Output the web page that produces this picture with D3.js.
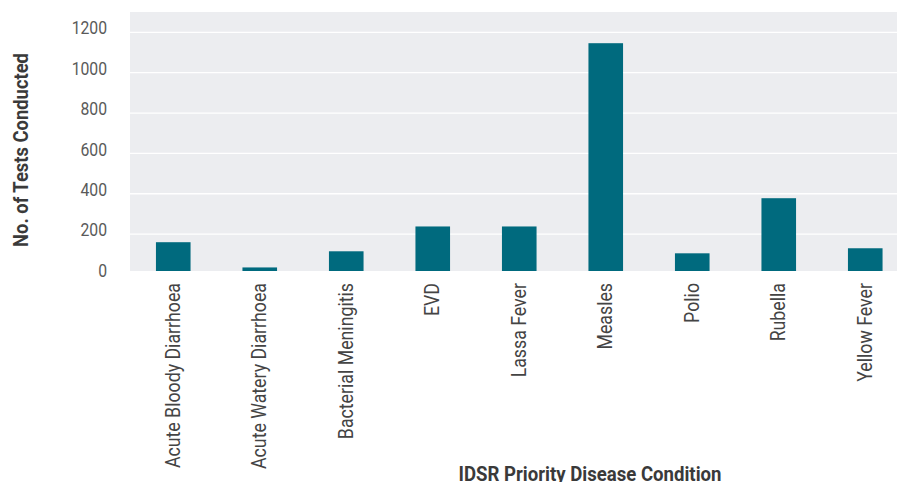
<!DOCTYPE html>
<html><head><meta charset="utf-8">
<script src="https://cdn.jsdelivr.net/npm/d3@7"></script>
<style>body{margin:0;background:#fff;} svg{display:block;} text{font-family:Roboto,"Noto Sans",sans-serif;}</style>
</head><body>
<svg id="chart" width="897" height="482"></svg>
<script>
const categories = ["Acute Bloody Diarrhoea","Acute Watery Diarrhoea","Bacterial Meningitis","EVD","Lassa Fever","Measles","Polio","Rubella","Yellow Fever"];
const values = [160, 35, 115, 238, 238, 1146, 105, 378, 130];
const yTicks = [0, 200, 400, 600, 800, 1000, 1200];
const yTitle = "No. of Tests Conducted";
const xTitle = "IDSR Priority Disease Condition";

const svg = d3.select("#chart");
const panel = {left:130, right:908.5, top:12, bottom:271};
const x = d3.scaleBand().domain(categories).range([panel.left, panel.right]).paddingInner(0.6).paddingOuter(0.3);
const y = d3.scaleLinear().domain([0, 1200]).range([274.5, 32.3]);

svg.append("rect").attr("x", panel.left).attr("y", panel.top)
  .attr("width", panel.right - panel.left).attr("height", panel.bottom - panel.top)
  .attr("fill", "#ecedf0");

svg.append("g").selectAll("line").data(yTicks.filter(d => d > 0)).join("line")
  .attr("x1", panel.left).attr("x2", panel.right)
  .attr("y1", d => y(d)).attr("y2", d => y(d))
  .attr("stroke", "#fff").attr("stroke-width", 1.3);

svg.append("g").selectAll("rect").data(values).join("rect")
  .attr("x", (d,i) => x(categories[i]))
  .attr("width", x.bandwidth())
  .attr("y", d => y(d))
  .attr("height", d => panel.bottom - y(d))
  .attr("fill", "#006a7e");

// y axis labels
const yAxis = d3.axisLeft(y).tickValues(yTicks).tickFormat(d3.format("d")).tickSize(0).tickPadding(0);
const gy = svg.append("g").attr("transform", `translate(107,-4)`).call(yAxis);
gy.select(".domain").remove();
gy.selectAll("text").attr("fill", "#5a5a5a").style("font-size", "17.5px")
  .attr("text-anchor", "end").attr("x", 0)
  .attr("transform", "scale(0.9,1)");

// x labels
const xAxis = d3.axisBottom(x).tickSize(0).tickPadding(0);
const gx = svg.append("g").attr("transform", `translate(0,${panel.bottom})`).call(xAxis);
gx.select(".domain").remove();
gx.selectAll("text")
  .attr("fill", "#444").style("font-size", "19.5px")
  .attr("text-anchor", "end")
  .attr("dy", null)
  .attr("transform", "translate(6.5,12) rotate(-90) scale(0.91,1)")
  .attr("x", 0).attr("y", 0);

svg.append("text").attr("transform", "translate(28,150) rotate(-90) scale(0.92,1)")
  .attr("text-anchor", "middle").attr("fill", "#3a3a3a")
  .style("font-size", "20px").style("font-weight", "700").text(yTitle);

svg.append("text").attr("transform", "translate(590,480.5) scale(0.93,1)")
  .attr("text-anchor", "middle").attr("fill", "#3a3a3a")
  .style("font-size", "20px").style("font-weight", "700").text(xTitle);
</script>
</body></html>
